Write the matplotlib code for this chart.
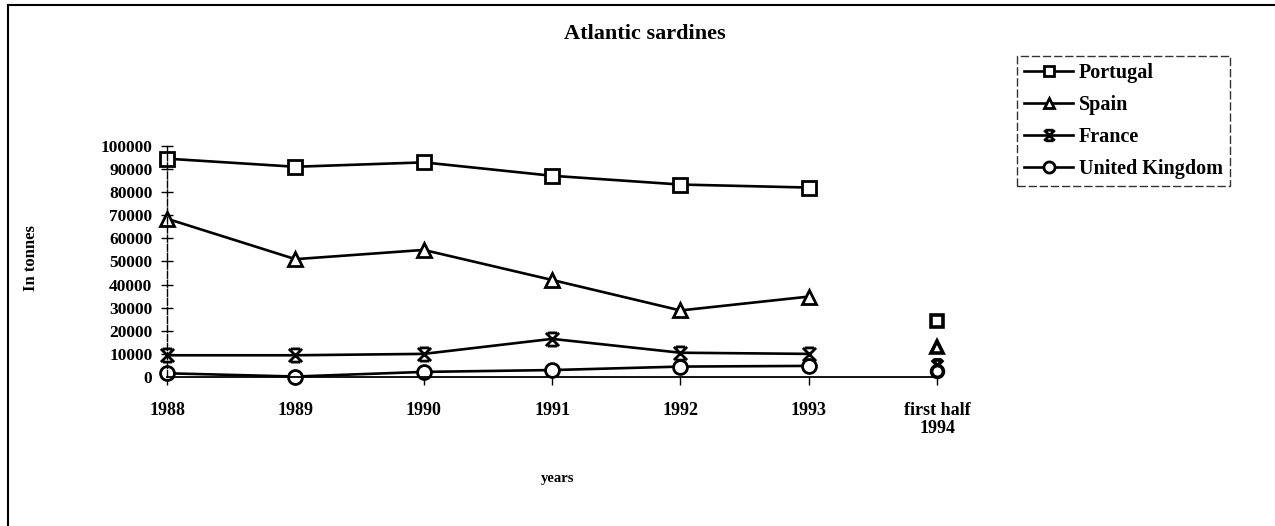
#!/usr/bin/env python3
"""
Atlantic sardines catches by country, 1988-1993 plus first half 1994.
"""

import matplotlib
matplotlib.use('Agg')
import matplotlib.pyplot as plt
from matplotlib.path import Path
from matplotlib.lines import Line2D
import numpy as np

plt.rcParams['font.family'] = ['Liberation Serif', 'DejaVu Serif']
plt.rcParams['font.weight'] = 'bold'

years = ['1988', '1989', '1990', '1991', '1992', '1993']
half_label = 'first half\n1994'

portugal = [94500, 91000, 92900, 87100, 83300, 82000]
spain = [68500, 51000, 55000, 42000, 28800, 34800]
france = [9400, 9400, 10000, 16500, 10500, 10000]
uk = [1600, 200, 2200, 3000, 4500, 4800]

# first half 1994 (not joined to the yearly lines)
half_1994 = {'Portugal': 24400, 'Spain': 12800, 'France': 5000, 'United Kingdom': 2500}

# bow-tie style cross used for France
xmark = Path(
    [(-1, -1), (1, 1), (-1, 1), (1, -1), (-0.7, 1), (0.7, 1), (-0.7, -1), (0.7, -1)],
    [Path.MOVETO, Path.LINETO, Path.MOVETO, Path.LINETO,
     Path.MOVETO, Path.LINETO, Path.MOVETO, Path.LINETO])

series = [
    ('Portugal', portugal, 's', 9.5),
    ('Spain', spain, '^', 9.5),
    ('France', france, xmark, 9.5),
    ('United Kingdom', uk, 'o', 10),
]

fig = plt.figure(figsize=(12.75, 5.26), dpi=100)
ax = fig.add_axes([0.131, 0.2833, 0.604, 0.4392])

x = np.arange(len(years))
handles = []
for name, vals, mk, ms in series:
    ln, = ax.plot(x, vals, color='black', linewidth=1.9, marker=mk, markersize=ms,
                  markerfacecolor='white', markeredgecolor='black',
                  markeredgewidth=2.0, clip_on=False, label=name)
    ax.plot([len(years)], [half_1994[name]], linestyle='none', marker=mk,
            markersize=ms * 0.85, markerfacecolor='white', markeredgecolor='black',
            markeredgewidth=2.6, clip_on=False)
    handles.append(ln)

ax.set_xlim(0, len(years))
ax.set_ylim(0, 100000)
ax.set_xticks(list(x) + [len(years)])
ax.set_xticklabels(years + [half_label], fontsize=13, fontweight='bold',
                   linespacing=1.1)
ax.set_yticks(np.arange(0, 100001, 10000))
ax.set_yticklabels([str(v) for v in range(0, 100001, 10000)], fontsize=12.5,
                   fontweight='bold')

for s in ['top', 'right']:
    ax.spines[s].set_visible(False)
ax.spines['left'].set_linestyle((0, (5, 1.5)))
ax.spines['left'].set_linewidth(1.0)
ax.spines['bottom'].set_linewidth(1.3)
ax.tick_params(axis='y', direction='inout', length=9, width=1.0, pad=6)
ax.tick_params(axis='x', direction='out', length=6, width=1.0, pad=12)

fig.text(0.506, 0.935, 'Atlantic sardines', ha='center', va='center',
         fontsize=16, fontweight='bold')
fig.text(0.024, 0.51, 'In tonnes', ha='center', va='center', rotation=90,
         fontsize=12, fontweight='bold')
fig.text(0.437, 0.091, 'years', ha='center', va='center', fontsize=10.5,
         fontweight='bold')

leg = fig.legend(handles=handles, loc='upper left', bbox_to_anchor=(0.798, 0.8935),
                 frameon=True, fancybox=False, handlelength=2.4, handletextpad=0.3,
                 labelspacing=0.6, borderpad=0.35, borderaxespad=0, markerscale=0.8,
                 prop={'size': 14.5, 'weight': 'bold'})
leg.get_frame().set_edgecolor('black')
leg.get_frame().set_linestyle((0, (6, 2)))
leg.get_frame().set_linewidth(1.0)

# page frame (left and top edges)
fig.add_artist(Line2D([0.006, 0.006], [0.0, 0.99], color='black', linewidth=1.5,
                      transform=fig.transFigure))
fig.add_artist(Line2D([0.006, 1.0], [0.99, 0.99], color='black', linewidth=1.5,
                      transform=fig.transFigure))

fig.savefig('out.png', dpi=100)
